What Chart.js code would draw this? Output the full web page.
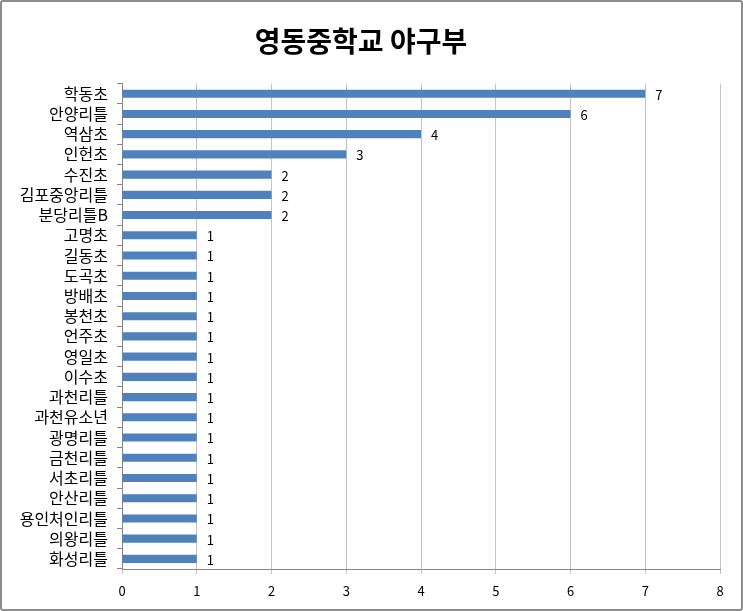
<!DOCTYPE html>
<html>
<head>
<meta charset="utf-8">
<script src="https://cdn.jsdelivr.net/npm/chart.js@4"></script>
<style>
  body { margin: 0; background: #fff; }
  #wrap {
    width: 743px; height: 611px; box-sizing: border-box;
    border: 2px solid #8c8c8c; border-radius: 3px; background: #fff;
  }
</style>
</head>
<body>
<div id="wrap"><canvas id="chart" width="739" height="607"></canvas></div>
<script>
const teams = ['학동초', '안양리틀', '역삼초', '인헌초', '수진초', '김포중앙리틀', '분당리틀B', '고명초', '길동초', '도곡초', '방배초', '봉천초', '언주초', '영일초', '이수초', '과천리틀', '과천유소년', '광명리틀', '금천리틀', '서초리틀', '안산리틀', '용인처인리틀', '의왕리틀', '화성리틀'];
const counts = [7, 6, 4, 3, 2, 2, 2, 1, 1, 1, 1, 1, 1, 1, 1, 1, 1, 1, 1, 1, 1, 1, 1, 1];
const xTicks = [0, 1, 2, 3, 4, 5, 6, 7, 8];

const fontKr = '"Noto Sans CJK KR", "Noto Sans", sans-serif';

// write the value just right of each bar
const valueLabels = {
  id: 'valueLabels',
  afterDatasetsDraw(chart) {
    const ctx = chart.ctx;
    const meta = chart.getDatasetMeta(0);
    ctx.save();
    ctx.font = '13px ' + fontKr;
    ctx.fillStyle = '#000';
    ctx.textBaseline = 'middle';
    meta.data.forEach((bar, i) => {
      ctx.fillText(String(counts[i]), bar.x + 10, bar.y + 1);
    });
    ctx.restore();
  }
};

new Chart(document.getElementById('chart'), {
  type: 'bar',
  data: {
    labels: teams,
    datasets: [{
      data: counts,
      backgroundColor: '#4f81bd',
      borderWidth: 0,
      barPercentage: 0.4,
      categoryPercentage: 1
    }]
  },
  options: {
    indexAxis: 'y',
    responsive: false,
    animation: false,
    layout: { padding: { top: 0, right: 21, left: 0, bottom: 0 } },
    plugins: {
      legend: { display: false },
      tooltip: { enabled: false },
      title: {
        display: true,
        text: '영동중학교 야구부',
        color: '#000',
        font: { family: fontKr, size: 28, weight: 'bold' },
        padding: { top: 23, bottom: 25 }
      }
    },
    scales: {
      x: {
        min: 0,
        max: 8,
        afterBuildTicks: scale => { scale.ticks = xTicks.map(v => ({ value: v })); },
        afterFit: scale => { scale.height = 40; },
        grid: { color: '#c4c4c4', tickLength: 5, drawTicks: true },
        border: { color: '#868686' },
        ticks: { color: '#000', padding: 9, font: { family: fontKr, size: 13 } }
      },
      y: {
        afterFit: scale => { scale.width = 120; },
        grid: { drawOnChartArea: false, tickLength: 5, color: '#868686', offset: true },
        border: { color: '#868686' },
        ticks: { color: '#000', padding: 9, autoSkip: false, font: { family: fontKr, size: 16 } }
      }
    }
  },
  plugins: [valueLabels]
});
</script>
</body>
</html>
